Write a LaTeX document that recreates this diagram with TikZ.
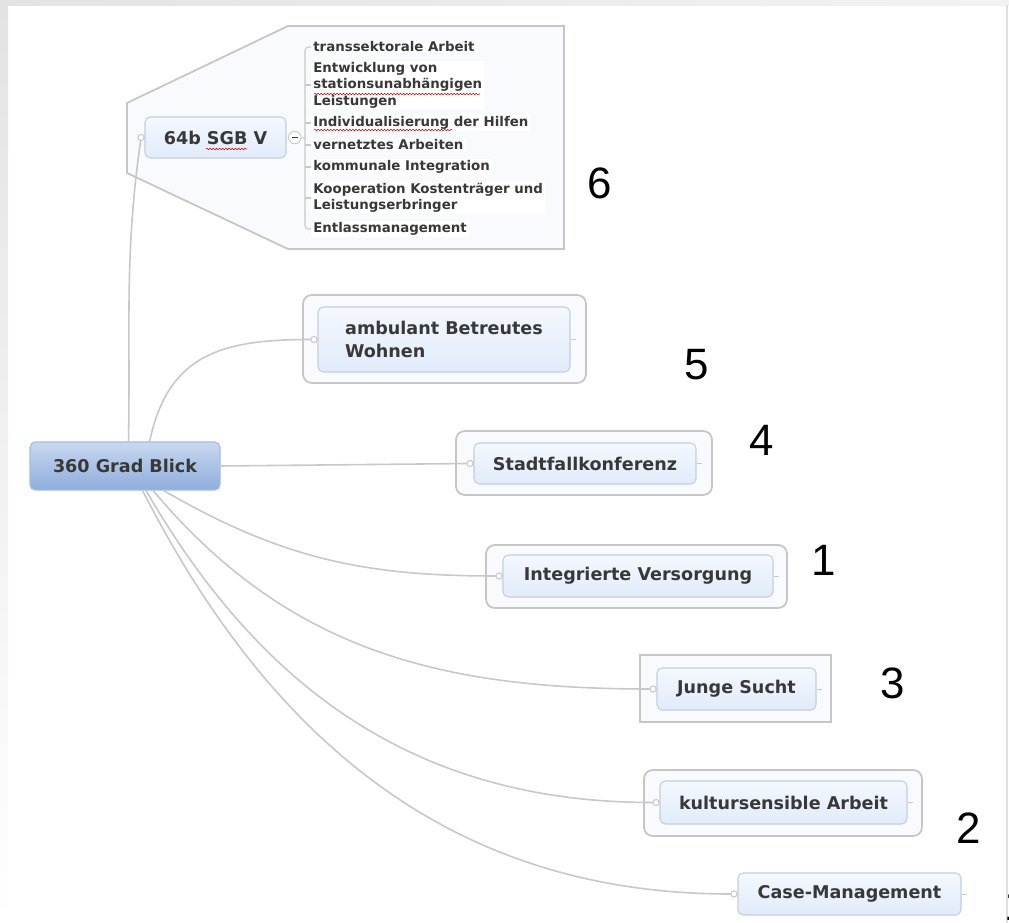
\documentclass[tikz,border=0pt]{standalone}
\usepackage{fontspec}
\setmainfont{DejaVu Sans}
\newfontfamily\numfont{Liberation Sans}
\usetikzlibrary{positioning}
\usetikzlibrary{decorations.pathmorphing}

\definecolor{linegray}{RGB}{200,200,200}
\definecolor{framegray}{RGB}{198,198,198}
\definecolor{framefill}{RGB}{249,250,253}
\definecolor{topictop}{RGB}{244,248,254}
\definecolor{topicbot}{RGB}{225,235,250}
\definecolor{topicedge}{RGB}{196,206,222}
\definecolor{roottop}{RGB}{202,216,239}
\definecolor{rootbot}{RGB}{141,173,220}
\definecolor{rootedge}{RGB}{165,188,222}
\definecolor{textgray}{RGB}{56,56,56}

\tikzset{
  topic/.style 2 args={draw=topicedge, line width=0.6pt, rounded corners=3pt,
    top color=topictop, bottom color=topicbot, text=textgray,
    minimum width=#1*0.02cm, minimum height=#2*0.02cm, inner sep=0pt,
    font=\fontsize{10}{12.8}\selectfont\bfseries, align=left},
  frame/.style 2 args={draw=framegray, line width=1pt, rounded corners=5pt,
    fill=framefill, minimum width=#1*0.02cm, minimum height=#2*0.02cm},
  link/.style={draw=linegray, line width=0.9pt},
  stub/.style={draw=linegray, line width=0.5pt},
  knob/.style={circle, draw=linegray, fill=white, line width=0.5pt,
    inner sep=0pt, minimum size=0.12cm},
  item/.style={anchor=west, fill=white, text=textgray, inner xsep=0.04cm,
    inner ysep=0.6pt, align=left, font=\fontsize{7.6}{9.4}\selectfont\bfseries},
  number/.style={font=\numfont\fontsize{25}{30}\selectfont, inner sep=0pt},
  squiggle/.style={red!85!black, line width=0.3pt, decorate,
    decoration={snake, amplitude=0.45pt, segment length=1.8pt}}
}

\begin{document}
\begin{tikzpicture}[x=0.02cm, y=-0.02cm]

\useasboundingbox (0,0) rectangle (1009,923);

%---------------------------------------
% Slide background
%---------------------------------------
\fill[white] (0,0) rectangle (1009,923);
\shade[top color=gray!22, bottom color=white] (0,0) rectangle (8,923);
\shade[left color=gray!22, right color=gray!10] (0,0) rectangle (1009,5);
\draw[gray!25, line width=0.6pt] (1007,5) -- (1007,923);

%---------------------------------------
% Frames round the topics
%---------------------------------------
\filldraw[draw=framegray, fill=framefill, line width=1pt]
  (127,103) -- (288,26) -- (564,26) -- (564,249) -- (288,249) -- (127,173) -- cycle;

\node[frame={283}{88}] (ambframe) at (444.5,339) {};
\node[frame={256}{64}] (stadtframe) at (584,463) {};
\node[frame={301}{63}] (integframe) at (636.5,576.5) {};
\node[frame={191}{67}, rounded corners=0pt] (jungeframe) at (735.5,688.5) {};
\node[frame={278}{66}] (kulturframe) at (783,803) {};

%---------------------------------------
% Topics
%---------------------------------------
\node[topic={190}{48}, top color=roottop, bottom color=rootbot, draw=rootedge]
  (root) at (125,466) {360 Grad Blick};

\node[topic={141}{41}] (sgb) at (215.5,137.5) {64b SGB V};
\node[topic={252}{65}] (amb) at (444,339.5) {ambulant Betreutes\\Wohnen};
\node[topic={222}{41}] (stadt) at (585,463.5) {Stadtfallkonferenz};
\node[topic={270}{42}] (integ) at (638,576) {Integrierte Versorgung};
\node[topic={159}{42}] (junge) at (736.5,689) {Junge Sucht};
\node[topic={247}{43}] (kultur) at (783.5,802.5) {kultursensible Arbeit};
\node[topic={223}{42}] (case) at (849.5,894) {Case-Management};

% small end marks on the right side
\foreach \n in {amb,stadt,integ,junge,kultur,case}
  \draw[stub] (\n.east) -- ++(5,0);

%---------------------------------------
% Subtopics of 64b SGB V
%---------------------------------------
\node[item] (t1) at (311,47) {transsektorale Arbeit};
\node[item] (t2) at (311,85) {Entwicklung von\\stationsunabhängigen\\Leistungen};
\node[item] (t3) at (311,123) {Individualisierung der Hilfen};
\node[item] (t4) at (311,145) {vernetztes Arbeiten};
\node[item] (t5) at (311,167) {kommunale Integration};
\node[item] (t6) at (311,198) {Kooperation Kostenträger und\\Leistungserbringer};
\node[item] (t7) at (311,229) {Entlassmanagement};

% spelling marks
\draw[squiggle] (206,149) -- (247,149);
\draw[squiggle] (314,94) -- (480,94);
\draw[squiggle] (314,130) -- (452,130);

% collapse button and bracket
\node[knob, minimum size=0.25cm, right=1.5 of sgb] (sgbc) {};
\draw[textgray, line width=0.6pt] ([shift={(-3,0)}]sgbc.center) -- ([shift={(3,0)}]sgbc.center);
\coordinate (brk) at (305,138);
\draw[link, line width=0.6pt] (sgbc) -- (brk);
\draw[link, line width=0.6pt, rounded corners=2pt] (t1.west) -| (brk) |- (t7.west);
\foreach \n in {2,...,6}
  \draw[link, line width=0.6pt] (brk |- t\n.west) -- (t\n.west);

%---------------------------------------
% Connectors from the root
%---------------------------------------
\node[knob, left=0pt of sgb] (sgbk) {};
\node[knob, left=0pt of amb] (ambk) {};
\node[knob, left=0pt of stadt] (stadtk) {};
\node[knob, left=0pt of integ] (integk) {};
\node[knob, left=0pt of junge] (jungek) {};
\node[knob, left=0pt of kultur] (kulturk) {};
\node[knob, left=0pt of case] (casek) {};

\draw[link] ([xshift=2]root.north) to[out=89, in=-98] (sgbk);
\draw[link] ([xshift=14]root.north) to[out=78, in=180, looseness=1.2] (ambk);
\draw[link] (root.east) -- (stadtk);
\draw[link] ([xshift=22]root.south) to[out=-30, in=180] (integk);
\draw[link] ([xshift=16]root.south) to[out=-50, in=180] (jungek);
\draw[link] ([xshift=12]root.south) to[out=-60, in=180] (kulturk);
\draw[link] ([xshift=10]root.south) to[out=-63, in=180] (casek);

% redraw knobs on top of the lines
\foreach \n in {sgbk,ambk,stadtk,integk,jungek,kulturk,casek}
  \node[knob] at (\n) {};

%---------------------------------------
% Numbers
%---------------------------------------
\node[number] (n6) at (600,183) {6};
\node[number] (n5) at (697,365) {5};
\node[number] (n4) at (762,440) {4};
\node[number] (n1) at (824,560) {1};
\node[number] (n3) at (893,683) {3};
\node[number] (n2) at (969,828) {2};
\node[number] (n7) at (1017,905) {1};

\end{tikzpicture}
\end{document}
